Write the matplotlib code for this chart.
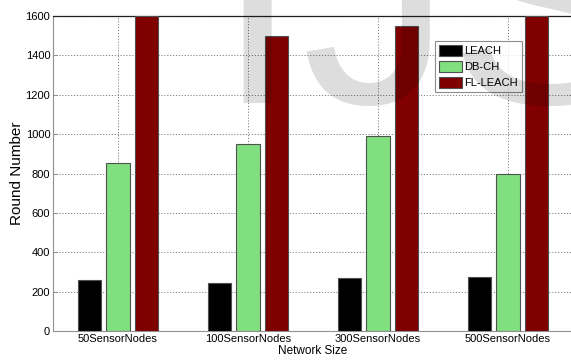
import matplotlib
matplotlib.use("Agg")
import matplotlib.pyplot as plt
import numpy as np

plt.rcParams['font.family'] = ['Liberation Sans', 'DejaVu Sans']

categories = ["50SensorNodes", "100SensorNodes", "300SensorNodes", "500SensorNodes"]
series_names = ["LEACH", "DB-CH", "FL-LEACH"]
leach = [260, 245, 268, 272]
db_ch = [852, 950, 990, 800]
fl_leach = [1600, 1500, 1550, 1600]
y_ticks = [0, 200, 400, 600, 800, 1000, 1200, 1400, 1600]

colors = ["#000000", "#80e080", "#800000"]

W, H = 571, 361
fig = plt.figure(figsize=(W / 100, H / 100), dpi=100)
ax = fig.add_axes([53 / W, (H - 331) / H, (573 - 53) / W, (331 - 16) / H])

x = np.arange(1, len(categories) + 1)
offset = 0.222
width = 0.178
for i, (vals, name, c) in enumerate(zip([leach, db_ch, fl_leach], series_names, colors)):
    ax.bar(x + (i - 1) * offset, vals, width=width, color=c, edgecolor="#505050",
           linewidth=0.8, label=name, zorder=3)

ax.set_xlim(0.5, 4.5)
ax.set_ylim(0, 1600)
ax.set_xticks(x)
ax.set_xticklabels(categories, fontsize=8)
ax.set_yticks(y_ticks)
ax.set_yticklabels([str(t) for t in y_ticks], fontsize=8)
ax.tick_params(direction="in", length=3, width=0.6, color="#808080", pad=2,
               right=True, top=False)
ax.grid(True, linestyle=(0, (1.2, 1.8)), color="#808080", linewidth=0.7, zorder=0)
ax.set_axisbelow(True)
for side in ["left", "bottom", "right"]:
    ax.spines[side].set_color("#909090")
    ax.spines[side].set_linewidth(0.8)
ax.spines["top"].set_color("#202020")
ax.spines["top"].set_linestyle((0, (1.5, 0.8)))
ax.spines["top"].set_linewidth(0.9)

ax.set_xlabel("Network Size", fontsize=8.5, labelpad=1)
ax.set_ylabel("Round Number", fontsize=11)
ax.yaxis.set_label_coords((24 - 53) / 520, 0.5)

leg = ax.legend(loc="upper left", bbox_to_anchor=((435 - 53) / (573 - 53), 1 - (41 - 16) / 315),
                fontsize=8, frameon=True, fancybox=False, borderpad=0.36,
                handlelength=2.07, handleheight=1.17, handletextpad=0.18, labelspacing=0.4,
                borderaxespad=0)
leg.get_frame().set_edgecolor("#707070")
leg.get_frame().set_linewidth(0.8)
leg.set_zorder(5)

# translucent publisher watermark across the top of the figure
for letter, px in [("I", 215), ("J", 301), ("S", 448)]:
    fig.text(px / W, (H - 103) / H, letter, fontsize=216, color="black", alpha=0.135,
             ha="left", va="baseline", zorder=10)

fig.savefig("out.png", dpi=100)
